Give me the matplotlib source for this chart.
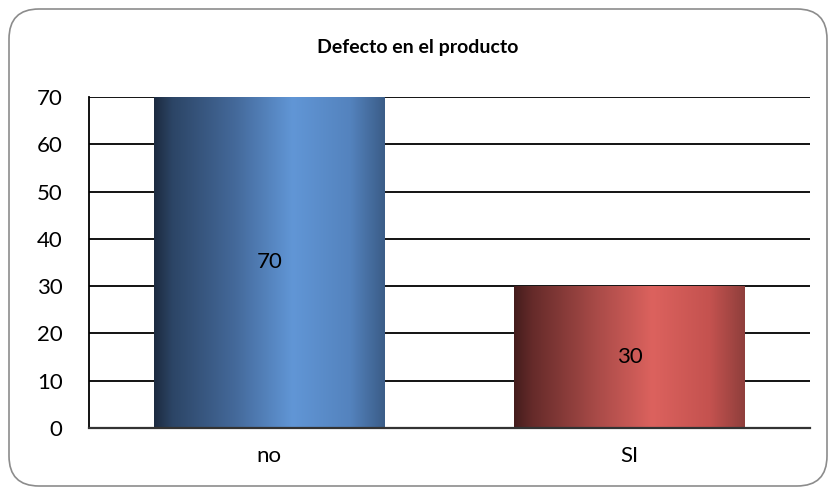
import numpy as np
import matplotlib
matplotlib.use("Agg")
import matplotlib.pyplot as plt
from matplotlib.patches import FancyBboxPatch
from matplotlib.colors import LinearSegmentedColormap

categories = ["no", "SI"]
values = [70, 30]
title = "Defecto en el producto"
yticks = [0, 10, 20, 30, 40, 50, 60, 70]

# horizontal shading stops for each bar (position, colour)
bar_gradients = [
    [(0.0, "#1d2b40"), (0.08, "#2c4566"), (0.35, "#44699a"), (0.6, "#6196d6"),
     (0.85, "#5483be"), (1.0, "#3b5d88")],
    [(0.0, "#451d1d"), (0.08, "#662b2a"), (0.35, "#a74a47"), (0.6, "#dc625e"),
     (0.85, "#c4524f"), (1.0, "#8f3f3c")],
]

plt.rcParams["font.family"] = ["Lato", "DejaVu Sans"]

W, H = 836, 494
fig = plt.figure(figsize=(W / 100, H / 100), dpi=100)
fig.patch.set_facecolor("white")

# rounded outer frame, drawn in pixel units on a background axes
bg = fig.add_axes([0, 0, 1, 1], zorder=-1)
bg.set_xlim(0, W)
bg.set_ylim(0, H)
bg.axis("off")
bg.add_patch(FancyBboxPatch((9, 8), W - 18, H - 17,
                            boxstyle="round,pad=0,rounding_size=30",
                            facecolor="white", edgecolor="#8c8c8c",
                            linewidth=1.2))

ax = fig.add_axes([89 / W, (H - 428) / H, 721 / W, 331 / H])
ax.set_facecolor("none")

x = np.arange(len(categories))
bars = ax.bar(x, values, width=0.64, color="none", edgecolor="none", zorder=3)

for bar, stops, val in zip(bars, bar_gradients, values):
    cmap = LinearSegmentedColormap.from_list("shade", stops)
    x0, y0 = bar.get_x(), bar.get_y()
    w, h = bar.get_width(), bar.get_height()
    grad = np.linspace(0, 1, 256).reshape(1, -1)
    ax.imshow(grad, cmap=cmap, aspect="auto", extent=(x0, x0 + w, y0, y0 + h),
              zorder=3, interpolation="bicubic")
    ax.text(x0 + w / 2, y0 + h / 2, f"{val}",
            ha="center", va="center", fontsize=16, color="black", zorder=4)

ax.set_xlim(-0.5, len(categories) - 0.5)
ax.set_ylim(0, 70)
ax.set_yticks(yticks)
ax.set_yticklabels([str(t) for t in yticks], fontsize=16)
ax.set_xticks(x)
ax.set_xticklabels(categories, fontsize=16)
ax.tick_params(axis="y", length=0, pad=19)
ax.tick_params(axis="x", length=0, pad=13)
ax.yaxis.grid(True, color="black", linewidth=1.3, zorder=1)
ax.set_axisbelow(True)

for side in ["top", "right"]:
    ax.spines[side].set_visible(False)
ax.spines["left"].set_linewidth(1.3)
ax.spines["left"].set_color("black")
ax.spines["bottom"].set_linewidth(1.6)
ax.spines["bottom"].set_color("#333333")
ax.spines["bottom"].set_zorder(5)

fig.text(0.5, 1 - 47 / H, title, ha="center", va="center",
         fontsize=14, fontweight="bold")

fig.savefig("out.png", dpi=100)
